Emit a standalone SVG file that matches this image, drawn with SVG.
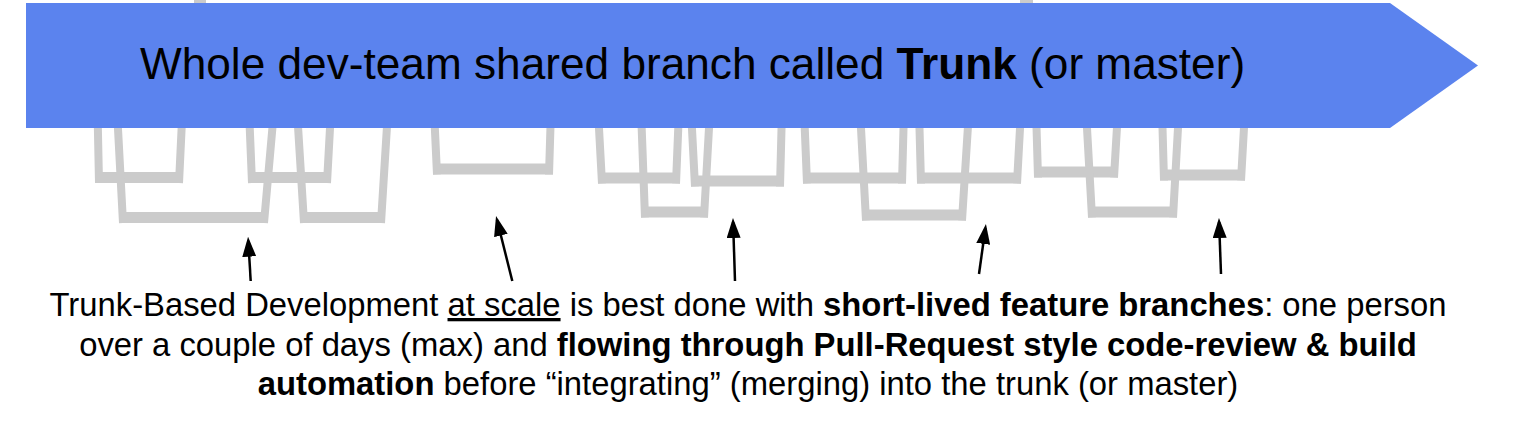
<svg xmlns="http://www.w3.org/2000/svg" width="1538" height="424" viewBox="0 0 1538 424">
<style>
.leg{fill:none;stroke:#cbcbcb;stroke-width:8}
.bot{fill:#cbcbcb}
.arr{fill:none;stroke:#000;stroke-width:2.5}
.ttl{font-family:"Liberation Sans",Arial,sans-serif;font-size:44.2px;fill:#000}
.cap{font-family:"Liberation Sans",Arial,sans-serif;font-size:32.8px;fill:#000}
</style>
<defs>
<marker id="ah" viewBox="0 0 20 14" refX="16" refY="7" markerWidth="20" markerHeight="14" markerUnits="userSpaceOnUse" orient="auto">
<path d="M0,0 L20,7 L0,14 z" fill="#000"/>
</marker>
</defs>
<rect width="1538" height="424" fill="#fff"/>
<g id="branches">
<rect x="194" y="0" width="12" height="5" class="bot"/>
<rect x="1020" y="0" width="13" height="5" class="bot"/>
<g id="branch-a"><path class="leg" d="M97.5 110 L99 183 M182.5 110 L179 183"/><rect class="bot" x="95" y="172" width="88" height="11"/></g>
<g id="branch-b"><path class="leg" d="M117 110 L123 223 M274 110 L264 223"/><rect class="bot" x="119" y="212" width="149" height="11"/></g>
<g id="branch-c"><path class="leg" d="M249 110 L252 183 M331 110 L327 183"/><rect class="bot" x="248" y="172" width="83" height="11"/></g>
<g id="branch-d"><path class="leg" d="M297 110 L304 223 M388 110 L381 223"/><rect class="bot" x="300" y="212" width="85" height="11"/></g>
<g id="branch-e"><path class="leg" d="M434 110 L437 174.5 M551 110 L549 174.5"/><rect class="bot" x="433" y="163.5" width="120" height="11"/></g>
<g id="branch-f"><path class="leg" d="M598 110 L602 183.5 M679 110 L676 183.5"/><rect class="bot" x="598" y="172.5" width="82" height="11"/></g>
<g id="branch-g"><path class="leg" d="M641 110 L645 217.5 M710 110 L704 217.5"/><rect class="bot" x="641" y="206.5" width="67" height="11"/></g>
<g id="branch-h"><path class="leg" d="M691 110 L695 186.5 M782 110 L780 186.5"/><rect class="bot" x="691" y="175.5" width="93" height="11"/></g>
<g id="branch-i"><path class="leg" d="M804 110 L807 183.5 M904 110 L902 183.5"/><rect class="bot" x="803" y="172.5" width="103" height="11"/></g>
<g id="branch-j"><path class="leg" d="M860 110 L866 220.5 M969 110 L962 220.5"/><rect class="bot" x="862" y="209.5" width="104" height="11"/></g>
<g id="branch-k"><path class="leg" d="M919 110 L921 183.5 M1021 110 L1017 183.5"/><rect class="bot" x="917" y="172.5" width="104" height="11"/></g>
<g id="branch-l"><path class="leg" d="M1036 110 L1038 177.5 M1118 110 L1114 177.5"/><rect class="bot" x="1034" y="166.5" width="84" height="11"/></g>
<g id="branch-m"><path class="leg" d="M1086 110 L1092 217.5 M1179 110 L1173 217.5"/><rect class="bot" x="1088" y="206.5" width="89" height="11"/></g>
<g id="branch-n"><path class="leg" d="M1162 110 L1164 180.5 M1245 110 L1241 180.5"/><rect class="bot" x="1160" y="169.5" width="85" height="11"/></g>
</g>
<g id="trunk">
<path d="M26 3 L1390 3 L1478 65.5 L1390 128 L26 128 Z" fill="#5b83ee"/>
<text class="ttl" x="140" y="79">Whole dev-team shared branch called <tspan font-weight="bold">Trunk</tspan> (or master)</text>
</g>
<g id="connectors">
<path class="arr" d="M250.7 281 L248.3 240.7" marker-end="url(#ah)"/>
<path class="arr" d="M512.3 281 L497 219.9" marker-end="url(#ah)"/>
<path class="arr" d="M735 281 L733.1 222" marker-end="url(#ah)"/>
<path class="arr" d="M979 274 L985.4 228" marker-end="url(#ah)"/>
<path class="arr" d="M1221 274 L1219.1 222" marker-end="url(#ah)"/>
</g>
<g id="caption">
<text class="cap" x="748" y="316" text-anchor="middle">Trunk-Based Development <tspan text-decoration="underline">at scale</tspan> is best done with <tspan font-weight="bold">short-lived feature branches</tspan>: one person</text>
<text class="cap" x="748" y="356" text-anchor="middle">over a couple of days (max) and <tspan font-weight="bold">flowing through Pull-Request style code-review &amp; build</tspan></text>
<text class="cap" x="748" y="395" text-anchor="middle"><tspan font-weight="bold">automation</tspan> before “integrating” (merging) into the trunk (or master)</text>
</g>
</svg>
